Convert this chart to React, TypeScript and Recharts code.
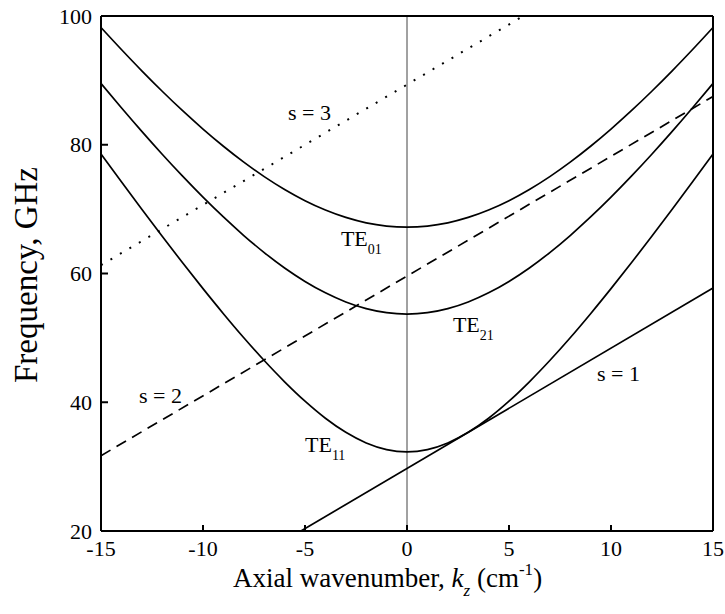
import React from "react";
import {
  LineChart,
  Line,
  XAxis,
  YAxis,
  ReferenceLine,
  ReferenceDot,
} from "recharts";

// axial wavenumber grid (cm^-1)
const kz = [
  -15, -14, -13, -12, -11, -10, -9, -8, -7, -6, -5, -4, -3, -2, -1, 0,
  1, 2, 3, 4, 5, 6, 7, 8, 9, 10, 11, 12, 13, 14, 15,
];

// waveguide mode dispersion curves (GHz)
const te11 = [
  78.57, 74.24, 69.98, 65.78, 61.66, 57.65, 53.76, 50.02, 46.48, 43.18, 40.17,
  37.52, 35.33, 33.68, 32.65, 32.3, 32.65, 33.68, 35.33, 37.52, 40.17, 43.18,
  46.48, 50.02, 53.76, 57.65, 61.66, 65.78, 69.98, 74.24, 78.57,
];
const te21 = [
  89.52, 85.75, 82.08, 78.53, 75.12, 71.86, 68.78, 65.9, 63.25, 60.86, 58.77,
  57.0, 55.58, 54.54, 53.91, 53.7, 53.91, 54.54, 55.58, 57.0, 58.77, 60.86,
  63.25, 65.9, 68.78, 71.86, 75.12, 78.53, 82.08, 85.75, 89.52,
];
const te01 = [
  98.21, 94.79, 91.48, 88.31, 85.29, 82.44, 79.77, 77.3, 75.05, 73.05, 71.31,
  69.86, 68.71, 67.87, 67.37, 67.2, 67.37, 67.87, 68.71, 69.86, 71.31, 73.05,
  75.05, 77.3, 79.77, 82.44, 85.29, 88.31, 91.48, 94.79, 98.21,
];

// beam lines for cyclotron harmonics s = 1, 2, 3
const s1Kz = [-5.2, 15];
const s1Freq = [20, 57.75];
const s2Kz = [-15, 15];
const s2Freq = [31.7, 87.5];
const s3Kz = [-15, 5.7];
const s3Freq = [61.3, 100];

const xTicks = [-15, -10, -5, 0, 5, 10, 15];
const yTicks = [20, 40, 60, 80, 100];

// curve annotations: [text, subscript, kz, freq]
const labels: [string, string, number, number][] = [
  ["s = 3", "", -5.83, 83.85],
  ["s = 2", "", -13.14, 39.88],
  ["s = 1", "", 9.31, 43.3],
  ["TE", "01", -3.24, 64.27],
  ["TE", "21", 2.25, 50.9],
  ["TE", "11", -5.0, 32.2],
];

const FONT = '"Liberation Serif", "Times New Roman", serif';

const toPoints = (xs: number[], ys: number[]) =>
  xs.map((x, i) => ({ kz: x, f: ys[i] }));

const bottomTick = (props: any) => {
  const { x, y, payload } = props;
  return (
    <g>
      <line x1={x} y1={y} x2={x} y2={y - 6} stroke="#000" strokeWidth={2} />
      <text x={x} y={y + 25} textAnchor="middle" fontSize={22} fontFamily={FONT} fill="#000">
        {payload.value}
      </text>
    </g>
  );
};

const topTick = (props: any) => {
  const { x, y } = props;
  return <line x1={x} y1={y} x2={x} y2={y + 6} stroke="#000" strokeWidth={2} />;
};

const leftTick = (props: any) => {
  const { x, y, payload } = props;
  return (
    <g>
      <line x1={x} y1={y} x2={x + 7} y2={y} stroke="#000" strokeWidth={2} />
      <text x={x - 9} y={y} dy="0.35em" textAnchor="end" fontSize={22} fontFamily={FONT} fill="#000">
        {payload.value}
      </text>
    </g>
  );
};

const rightTick = (props: any) => {
  const { x, y } = props;
  return <line x1={x} y1={y} x2={x - 7} y2={y} stroke="#000" strokeWidth={2} />;
};

const xTitle = () => (
  <text x={233} y={587} fontSize={27} fontFamily={FONT} fill="#000">
    Axial wavenumber,{" "}
    <tspan fontStyle="italic">k</tspan>
    <tspan fontSize={17} dy={9} fontStyle="italic">z</tspan>
    <tspan dy={-9}> (cm</tspan>
    <tspan fontSize={17} dy={-12}>-1</tspan>
    <tspan dy={12}>)</tspan>
  </text>
);

const yTitle = () => (
  <text
    x={37}
    y={383}
    transform="rotate(-90, 37, 383)"
    fontSize={33}
    fontFamily={FONT}
    fill="#000"
  >
    Frequency,  GHz
  </text>
);

const curveLabel = (text: string, sub: string) => (props: any) => {
  const { x, y } = props.viewBox;
  return (
    <text x={x} y={y} fontSize={22} fontFamily={FONT} fill="#000">
      {text}
      {sub ? (
        <tspan fontSize={14} dy={8}>
          {sub}
        </tspan>
      ) : null}
    </text>
  );
};

const axisLine = { stroke: "#000", strokeWidth: 2 };

export default function App() {
  return (
    <div style={{ position: "absolute", left: 0, top: 0, background: "#fff" }}>
      <LineChart
        width={725}
        height={614}
        margin={{ top: 15, right: 11, left: 61, bottom: 53 }}
      >
        <XAxis
          dataKey="kz"
          type="number"
          domain={[-15, 15]}
          ticks={xTicks}
          interval={0}
          height={30}
          tickSize={0}
          tickMargin={0}
          tickLine={false}
          axisLine={axisLine}
          tick={bottomTick}
          label={xTitle}
          allowDuplicatedCategory={false}
        />
        <XAxis
          xAxisId="top"
          orientation="top"
          dataKey="kz"
          type="number"
          domain={[-15, 15]}
          ticks={xTicks}
          interval={0}
          height={1}
          tickSize={0}
          tickMargin={0}
          tickLine={false}
          axisLine={axisLine}
          tick={topTick}
          allowDuplicatedCategory={false}
        />
        <YAxis
          type="number"
          domain={[20, 100]}
          ticks={yTicks}
          interval={0}
          width={40}
          tickSize={0}
          tickMargin={0}
          tickLine={false}
          axisLine={axisLine}
          tick={leftTick}
          label={yTitle}
          allowDataOverflow
        />
        <YAxis
          yAxisId="right"
          orientation="right"
          type="number"
          domain={[20, 100]}
          ticks={yTicks}
          interval={0}
          width={1}
          tickSize={0}
          tickMargin={0}
          tickLine={false}
          axisLine={axisLine}
          tick={rightTick}
        />
        <ReferenceLine x={0} stroke="#444" strokeWidth={1} />
        <Line
          data={toPoints(kz, te11)}
          dataKey="f"
          type="monotone"
          stroke="#000"
          strokeWidth={1.7}
          dot={false}
          isAnimationActive={false}
        />
        <Line
          data={toPoints(kz, te21)}
          dataKey="f"
          type="monotone"
          stroke="#000"
          strokeWidth={1.7}
          dot={false}
          isAnimationActive={false}
        />
        <Line
          data={toPoints(kz, te01)}
          dataKey="f"
          type="monotone"
          stroke="#000"
          strokeWidth={1.7}
          dot={false}
          isAnimationActive={false}
        />
        <Line
          data={toPoints(s1Kz, s1Freq)}
          dataKey="f"
          type="linear"
          stroke="#000"
          strokeWidth={1.7}
          dot={false}
          isAnimationActive={false}
        />
        <Line
          data={toPoints(s2Kz, s2Freq)}
          dataKey="f"
          type="linear"
          stroke="#000"
          strokeWidth={1.7}
          strokeDasharray="11 7"
          dot={false}
          isAnimationActive={false}
        />
        <Line
          data={toPoints(s3Kz, s3Freq)}
          dataKey="f"
          type="linear"
          stroke="#000"
          strokeWidth={2}
          strokeDasharray="2 9"
          dot={false}
          isAnimationActive={false}
        />
        {labels.map(([text, sub, x, y]) => (
          <ReferenceDot
            key={text + sub}
            x={x}
            y={y}
            r={0}
            fill="none"
            stroke="none"
            label={curveLabel(text, sub)}
          />
        ))}
      </LineChart>
    </div>
  );
}
